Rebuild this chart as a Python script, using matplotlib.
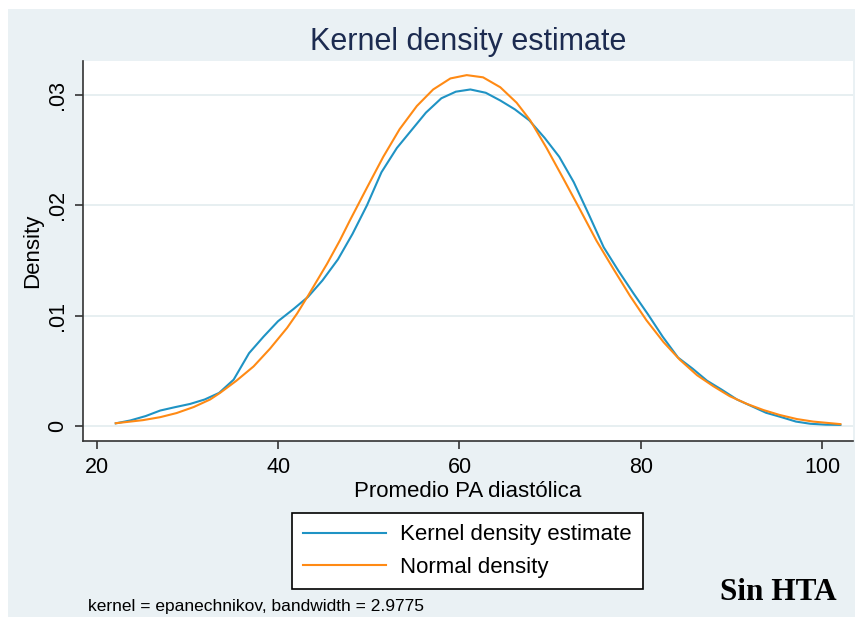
import matplotlib.pyplot as plt
from matplotlib.patches import Rectangle

plt.rcParams['font.family'] = ['Liberation Sans', 'DejaVu Sans']

# kernel density estimate (epanechnikov, 50 points)
kde_x = [22.1, 23.7, 25.4, 27.0, 28.6, 30.3, 31.9, 33.5, 35.1, 36.8,
         38.4, 40.0, 41.7, 43.3, 44.9, 46.6, 48.2, 49.8, 51.4, 53.1,
         54.7, 56.3, 58.0, 59.6, 61.2, 62.9, 64.5, 66.1, 67.7, 69.4,
         71.0, 72.6, 74.3, 75.9, 77.5, 79.2, 80.8, 82.4, 84.1, 85.7,
         87.3, 88.9, 90.6, 92.2, 93.8, 95.5, 97.1, 98.7, 100.4, 102.0]
kde_y = [0.00024, 0.0005, 0.0009, 0.0014, 0.0017, 0.0020, 0.0024, 0.0030, 0.0042, 0.0066,
         0.0081, 0.0095, 0.0106, 0.0117, 0.0132, 0.0151, 0.0174, 0.0200, 0.0230, 0.0252,
         0.0268, 0.0284, 0.0297, 0.0303, 0.0305, 0.0302, 0.0295, 0.0287, 0.0277, 0.0261,
         0.0244, 0.0221, 0.0191, 0.0162, 0.0141, 0.0120, 0.0101, 0.0081, 0.0062, 0.0052,
         0.0041, 0.0033, 0.0024, 0.0018, 0.0012, 0.0008, 0.0004, 0.0002, 0.00012, 0.0001]

# normal density overlay
norm_x = [22.1, 25.1, 27.0, 28.8, 30.7, 32.5, 33.6, 35.4, 37.3, 39.1,
          41.0, 42.1, 43.3, 45.4, 46.8, 47.9, 49.8, 51.6, 53.4, 55.3,
          57.1, 59.0, 60.8, 62.6, 64.5, 66.3, 67.8, 69.6, 71.4, 73.3,
          75.1, 77.0, 78.8, 80.6, 82.5, 84.3, 86.2, 88.0, 89.8, 91.7,
          93.5, 95.3, 97.2, 99.0, 102.0]
norm_y = [0.00025, 0.00053, 0.0008, 0.00117, 0.00172, 0.0024, 0.0030, 0.0041, 0.0054, 0.0070,
          0.0089, 0.0102, 0.0118, 0.0147, 0.0168, 0.0186, 0.0216, 0.0244, 0.0269, 0.0290,
          0.0305, 0.0315, 0.0318, 0.0316, 0.0307, 0.0293, 0.0277, 0.0252, 0.0225, 0.0196,
          0.0168, 0.0142, 0.0118, 0.0096, 0.0076, 0.0060, 0.0046, 0.0036, 0.0027, 0.0020,
          0.00145, 0.0010, 0.00063, 0.0004, 0.00017]

x_ticks = [20, 40, 60, 80, 100]
y_ticks = [0, 0.01, 0.02, 0.03]
y_labels = ['0', '.01', '.02', '.03']

blue = '#1f93c4'
orange = '#ff8a14'
bg = '#eaf1f4'
axcol = '#333333'

fig = plt.figure(figsize=(8.57, 6.18), dpi=100)
fig.patch.set_facecolor('white')
# graph region background
fig.patches.append(Rectangle((8 / 857, 1 / 618), 847 / 857, 608 / 618,
                             transform=fig.transFigure, facecolor=bg,
                             edgecolor='none', zorder=-1))

ax = fig.add_axes([83 / 857, 1 - 441 / 618, 770 / 857, 380 / 618])
ax.set_facecolor('white')

ax.plot(kde_x, kde_y, color=blue, lw=1.5, label='Kernel density estimate', zorder=3)
ax.plot(norm_x, norm_y, color=orange, lw=1.5, label='Normal density', zorder=3)

ax.set_xlim(18.49, 103.39)
ax.set_ylim(-0.00136, 0.03308)
ax.set_xticks(x_ticks)
ax.set_yticks(y_ticks)
ax.set_yticklabels(y_labels)
ax.grid(axis='y', color='#e3ecef', lw=1.2, zorder=1)
ax.set_axisbelow(True)

for s in ['top', 'right']:
    ax.spines[s].set_visible(False)
for s in ['left', 'bottom']:
    ax.spines[s].set_color(axcol)
    ax.spines[s].set_linewidth(1.2)

ax.tick_params(axis='both', direction='out', length=5.8, width=1.2,
               color=axcol, labelsize=15.5, labelcolor='black')
ax.tick_params(axis='x', pad=6)
ax.tick_params(axis='y', pad=5, labelrotation=90)
for lab in ax.get_yticklabels():
    lab.set_va('center')

ax.set_xlabel('Promedio PA diastólica', fontsize=16)
ax.xaxis.set_label_coords(0.5, -0.104)
ax.set_ylabel('Density', fontsize=16)
ax.yaxis.set_label_coords(-0.052, 0.5)

fig.text(468 / 857, 1 - 42 / 618, 'Kernel density estimate', fontsize=22,
         color='#1c2b50', ha='center', va='center')

leg = fig.legend(loc='upper left', bbox_to_anchor=(291.7 / 857, 1 - 513.3 / 618),
                 borderaxespad=0, fontsize=16, handlelength=3.75, handletextpad=0.64,
                 labelspacing=0.5, borderpad=0.5, fancybox=False, framealpha=1,
                 edgecolor='black')
leg.get_frame().set_linewidth(1.2)

fig.text(88 / 857, 1 - 606 / 618, 'kernel = epanechnikov, bandwidth = 2.9775',
         fontsize=12.5, ha='left', va='center')
fig.text(837 / 857, 1 - 593 / 618, 'Sin HTA', fontsize=22.5, fontweight='bold',
         family='Liberation Serif', ha='right', va='center')

fig.savefig('out.png', dpi=100)
